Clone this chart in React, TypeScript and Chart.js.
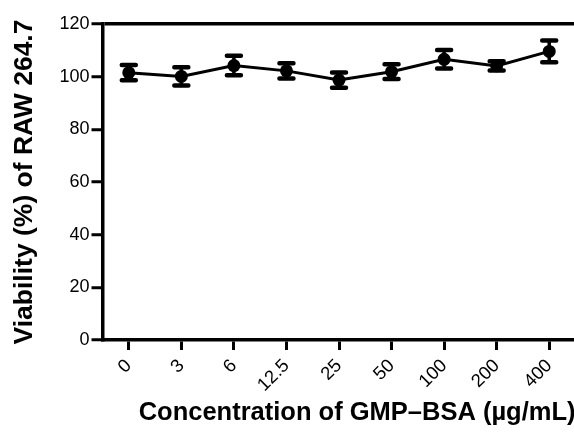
import React, { useEffect, useRef } from "react";
import { Chart, registerables } from "chart.js";

Chart.register(...registerables);

const categories = ["0", "3", "6", "12.5", "25", "50", "100", "200", "400"];
const viability = [101.5, 100.1, 104.2, 102.2, 98.7, 101.9, 106.6, 104.1, 109.6];
const errors = [2.9, 3.5, 3.7, 2.9, 2.9, 2.8, 3.5, 1.8, 4.1];
const yTicks = [0, 20, 40, 60, 80, 100, 120];

const FONT = "'Liberation Sans', Arial, Helvetica, sans-serif";

const errorBarPlugin = {
  id: "errorBars",
  afterDatasetsDraw(chart: any) {
    const ctx = chart.ctx;
    const xs = chart.scales.x;
    const ys = chart.scales.y;
    ctx.save();
    ctx.strokeStyle = "#000";
    viability.forEach((v, i) => {
      const x = xs.getPixelForValue(i);
      const yTop = ys.getPixelForValue(v + errors[i]);
      const yBot = ys.getPixelForValue(v - errors[i]);
      ctx.lineWidth = 3.5;
      ctx.beginPath();
      ctx.moveTo(x, yTop);
      ctx.lineTo(x, yBot);
      ctx.stroke();
      ctx.lineWidth = 4.5;
      ctx.lineCap = "round";
      ctx.beginPath();
      ctx.moveTo(x - 7, yTop);
      ctx.lineTo(x + 7, yTop);
      ctx.moveTo(x - 7, yBot);
      ctx.lineTo(x + 7, yBot);
      ctx.stroke();
    });
    ctx.restore();
  },
};

export default function App() {
  const ref = useRef<HTMLCanvasElement>(null);
  useEffect(() => {
    if (!ref.current) return;
    const chart = new Chart(ref.current, {
      type: "line",
      data: {
        labels: categories,
        datasets: [
          {
            data: viability,
            borderColor: "#000",
            borderWidth: 3,
            backgroundColor: "#000",
            pointBackgroundColor: "#000",
            pointBorderColor: "#000",
            pointRadius: 6.5,
            pointBorderWidth: 0,
            tension: 0,
          },
        ],
      },
      options: {
        animation: false,
        responsive: false,
        events: [],
        layout: { padding: { top: 24, right: 14.5, left: 0, bottom: 0 } },
        plugins: { legend: { display: false }, tooltip: { enabled: false } },
        scales: {
          x: {
            type: "category",
            offset: true,
            afterFit: (s: any) => {
              s.height = 94;
            },
            border: { display: true, color: "#000", width: 3.5 },
            grid: {
              drawOnChartArea: false,
              drawTicks: true,
              tickLength: 10,
              tickColor: "#000",
              tickWidth: 3,
            },
            ticks: {
              color: "#000",
              font: { family: FONT, size: 18.5 },
              minRotation: 45,
              maxRotation: 45,
              padding: 5,
              autoSkip: false,
            },
            title: {
              display: true,
              text: "Concentration of GMP–BSA (µg/mL)",
              color: "#000",
              align: "end",
              font: { family: FONT, size: 25.5, weight: "bold" },
              padding: { top: 0, bottom: 5.7 },
            },
          },
          y: {
            min: 0,
            max: 120,
            afterFit: (s: any) => {
              s.width = 102.5;
            },
            afterBuildTicks: (s: any) => {
              s.ticks = yTicks.map((v) => ({ value: v }));
            },
            border: { display: true, color: "#000", width: 3.5 },
            grid: {
              drawOnChartArea: true,
              color: (c: any) => (c.tick && c.tick.value === 120 ? "#000" : "rgba(0,0,0,0)"),
              lineWidth: 3.5,
              drawTicks: true,
              tickLength: 11,
              tickColor: "#000",
              tickWidth: 3,
            },
            ticks: {
              color: "#000",
              font: { family: FONT, size: 18 },
              padding: 2,
            },
            title: {
              display: true,
              text: "Viability (%) of RAW 264.7",
              color: "#000",
              font: { family: FONT, size: 26.5, weight: "bold" },
              padding: { top: 9.2, bottom: 0 },
            },
          },
        },
      },
      plugins: [errorBarPlugin],
    });
    return () => chart.destroy();
  }, []);
  return (
    <div
      style={{
        position: "fixed",
        left: 0,
        top: 0,
        width: 574,
        height: 434,
        overflow: "hidden",
        background: "#fff",
      }}
    >
      <canvas ref={ref} width={590} height={434} style={{ display: "block" }} />
    </div>
  );
}
